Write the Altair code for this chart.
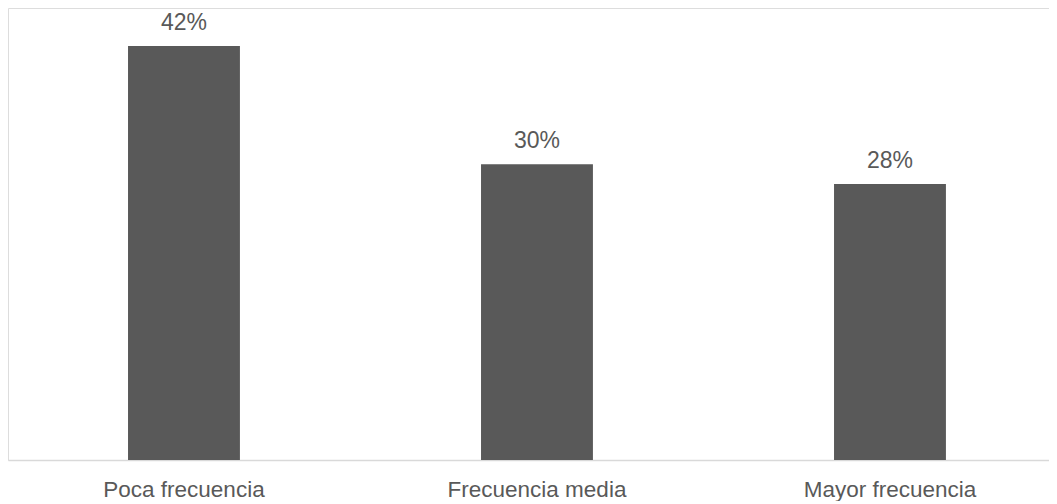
import altair as alt
import pandas as pd

categories = ["Poca frecuencia", "Frecuencia media", "Mayor frecuencia"]
values = [0.42, 0.30, 0.28]
labels = ["42%", "30%", "28%"]

df = pd.DataFrame({"cat": categories, "val": values, "lab": labels})

x = alt.X(
    "cat:N",
    sort=categories,
    scale=alt.Scale(paddingInner=0.683, paddingOuter=0.316, align=0.538),
    axis=alt.Axis(
        title=None,
        labelAngle=0,
        ticks=False,
        tickSize=0,
        grid=False,
        domainColor="#d9d9d9",
        domainWidth=1.5,
        labelFont="Liberation Sans",
        labelFontSize=22.5,
        labelColor="#595959",
        labelBaseline="alphabetic",
        labelPadding=36,
    ),
)
y = alt.Y("val:Q", scale=alt.Scale(domain=[0, 0.4586], nice=False, zero=True), axis=None)

base = alt.Chart(df).encode(x=x, y=y)

bars = base.mark_bar(color="#595959")
text = base.mark_text(
    dy=-16,
    baseline="alphabetic",
    align="center",
    font="Liberation Sans",
    fontSize=23,
    color="#595959",
).encode(text="lab:N")

chart = (
    (bars + text)
    .properties(width=1041, height=452, padding=0)
    .configure_view(strokeWidth=0, stroke="transparent")
    .configure(background="white")
)

chart.save("out.html", embed_options={"renderer": "svg", "actions": False})
